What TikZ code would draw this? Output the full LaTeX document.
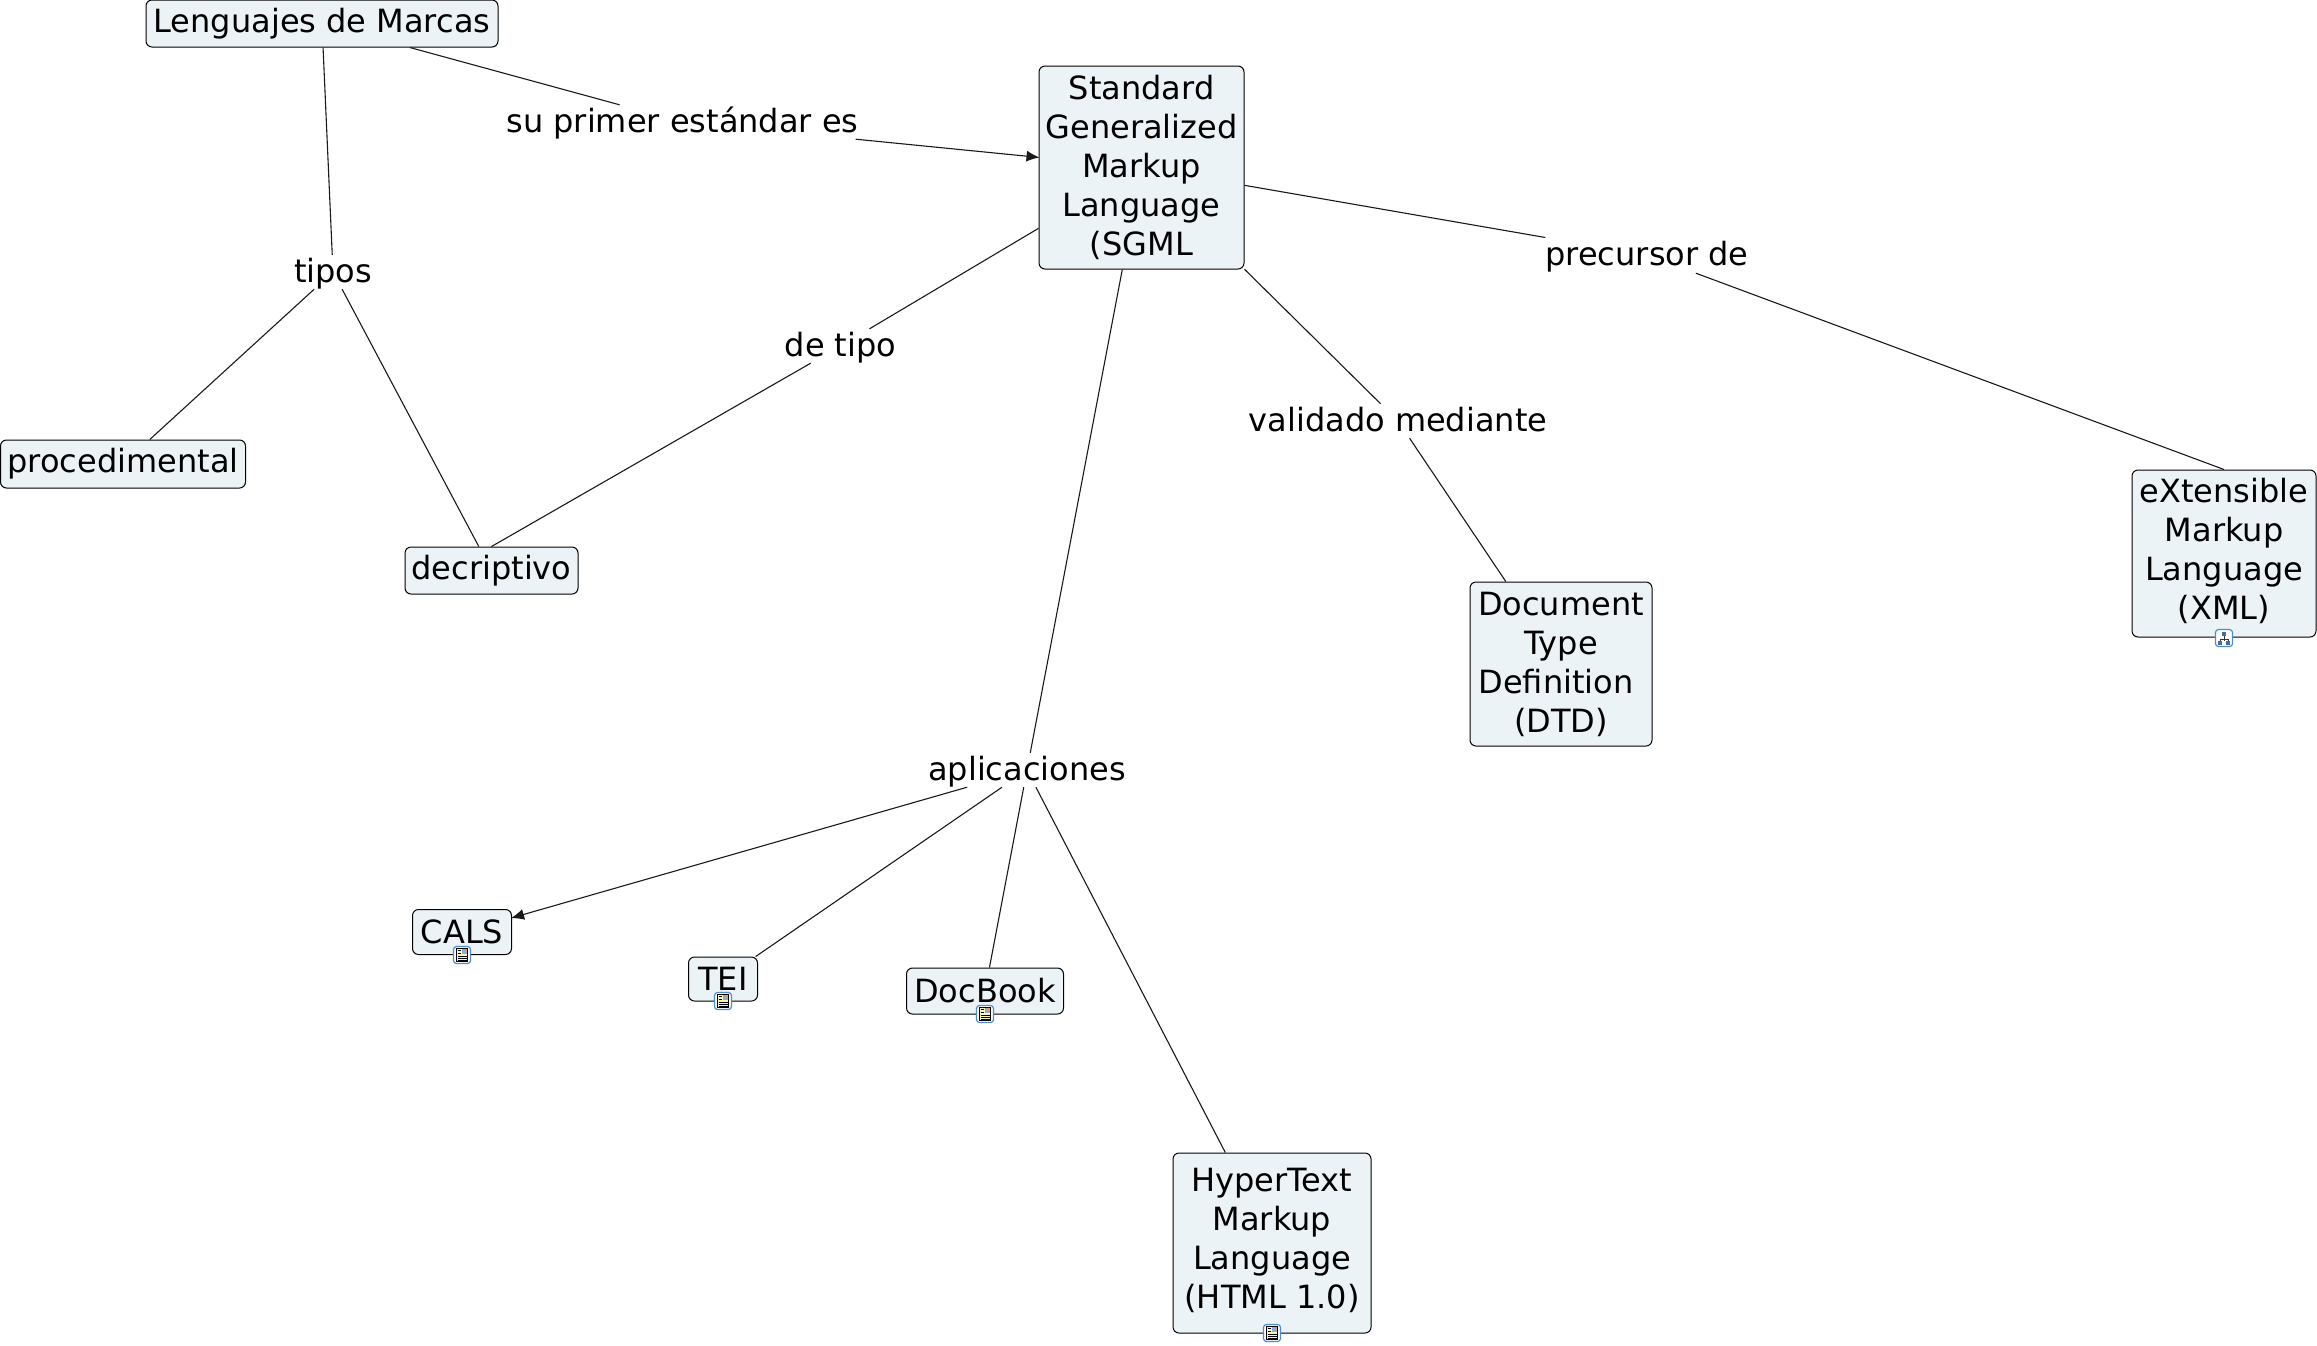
\documentclass[tikz,border=0pt]{standalone}
\usepackage{fontspec}
\setmainfont{DejaVu Sans}
\usetikzlibrary{arrows.meta}

\definecolor{conceptfill}{HTML}{EBF3F6}
\definecolor{iconblue}{HTML}{4F8BD0}
\definecolor{iconpage}{HTML}{FBF3B8}

\tikzset{
    concept/.style={draw=black, fill=conceptfill, rounded corners=6pt, line width=1pt, inner sep=0pt, align=center,
        font=\fontsize{32}{39}\selectfont},
    linkphrase/.style={inner sep=0pt, minimum height=34pt, text height=27.5pt, text depth=6.5pt,
        font=\fontsize{32}{39}\selectfont},
    link/.style={line width=1.1pt, black!90},
    linkarrow/.style={link, -{Latex[length=13pt,width=11pt]}, shorten >=-1pt},
    pics/docicon/.style={code={
        \draw[iconblue, fill=white, rounded corners=3pt, line width=1.2pt] (-8.5,-8.5) rectangle (8.5,8.5);
        \fill[iconpage, draw=black, line width=0.7pt] (-5.5,-6.5) rectangle (5.5,6.5);
        \fill[iconblue!70] (0,-6) rectangle (5,-1);
        \fill[orange!80] (2.5,-6) rectangle (5,-3.5);
        \foreach \ypos in {1,3,5} {
            \draw[black, line width=0.7pt] (-4.5,\ypos) -- (4.5,\ypos);
        }
        \draw[black, line width=0.7pt] (-4.5,-4.5) -- (-1,-4.5) (-4.5,-2) -- (-1,-2);
    }},
    pics/mapicon/.style={code={
        \draw[iconblue, fill=white, rounded corners=3pt, line width=1.2pt] (-8.5,-8.5) rectangle (8.5,8.5);
        \draw[black!80, line width=0.8pt] (0,-3) -- (0,3) (-4,4) -- (-4,1) -- (4,1) -- (4,4);
        \fill[iconblue!80!black] (-2,-6) rectangle (2,-2.5);
        \fill[iconblue!80!black] (-6,3) rectangle (-2,6.5);
        \fill[iconblue!80!black] (2,3) rectangle (6,6.5);
    }}
}

\begin{document}
\begin{tikzpicture}[x=1pt, y=-1pt]
    \useasboundingbox (0,0) rectangle (2317,1345);

    % Concepts
    \node[concept, minimum width=352pt, minimum height=47pt] (lenguajes) at (322,23.5) {Lenguajes de Marcas};
    \node[concept, minimum width=205pt, minimum height=203pt] (sgml) at (1141.5,167.5) {Standard\\Generalized\\Markup\\Language\\(SGML};
    \node[concept, minimum width=245pt, minimum height=48pt] (procedimental) at (123,464) {procedimental};
    \node[concept, minimum width=173pt, minimum height=47pt] (decriptivo) at (491.5,570.5) {decriptivo};
    \node[concept, minimum width=182pt, minimum height=164pt] (dtd) at (1561,664) {Document\\Type\\Definition\hspace*{10pt}\mbox{}\\(DTD)};
    \node[concept, minimum width=184pt, minimum height=167pt, text depth=9pt] (xml) at (2224,553.5) {eXtensible\\Markup\\Language\\(XML)};
    \node[concept, minimum width=99pt, minimum height=45pt] (cals) at (462,932) {CALS};
    \node[concept, minimum width=69pt, minimum height=44pt] (tei) at (723,979) {TEI};
    \node[concept, minimum width=157pt, minimum height=46pt] (docbook) at (985,991) {DocBook};
    \node[concept, minimum width=198pt, minimum height=180pt, text depth=9pt] (html) at (1272,1243) {HyperText\\Markup\\Language\\(HTML 1.0)};

    % Linking phrases
    \node[linkphrase] (primer) at (682.5,122) {su primer estándar es};
    \node[linkphrase] (tipos) at (333,272) {tipos};
    \node[linkphrase] (detipo) at (840.5,346) {de tipo};
    \node[linkphrase] (validado) at (1398,421) {validado mediante};
    \node[linkphrase, minimum height=36pt, text height=28.5pt, text depth=7.5pt] (precursor) at (1647,255) {precursor de};
    \node[linkphrase] (aplicaciones) at (1027,770) {aplicaciones};

    % Connectors
    \draw[link] (lenguajes) -- (primer);
    \draw[linkarrow] (primer) -- (sgml);
    \draw[link] (lenguajes) -- (tipos);
    \draw[link] (tipos) -- (procedimental);
    \draw[link] (tipos) -- (decriptivo);
    \draw[link] (sgml) -- (detipo);
    \draw[link] (detipo) -- (decriptivo.north);
    \draw[link] (sgml) -- (validado);
    \draw[link] (validado) -- (dtd);
    \draw[link] (sgml) -- (precursor);
    \draw[link] (precursor) -- (xml.north);
    \draw[link] (sgml) -- (aplicaciones);
    \draw[linkarrow] (aplicaciones) -- (cals);
    \draw[link] (aplicaciones) -- (tei);
    \draw[link] (aplicaciones) -- (docbook);
    \draw[link] (aplicaciones) -- (html);

    % Resource icons
    \pic at (462,955) {docicon};
    \pic at (723,1001) {docicon};
    \pic at (985,1014) {docicon};
    \pic at (1272,1333) {docicon};
    \pic at (2224,638) {mapicon};
\end{tikzpicture}
\end{document}
